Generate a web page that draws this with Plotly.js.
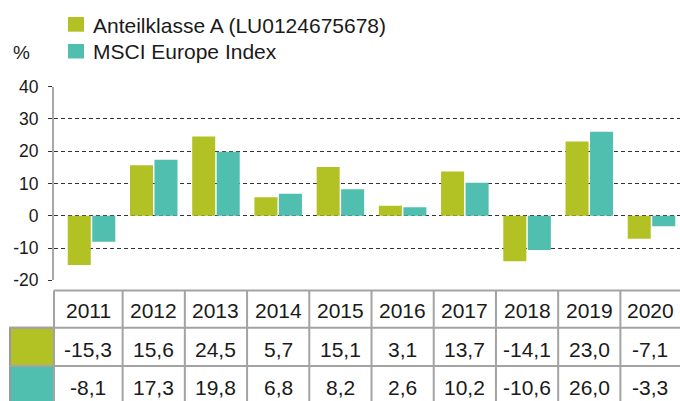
<!DOCTYPE html>
<html>
<head>
<meta charset="utf-8">
<script src="https://cdn.plot.ly/plotly-3.0.1.min.js"></script>
<style>html,body{margin:0;padding:0;background:#fff;}#chart{width:680px;height:401px;}</style>
</head>
<body>
<div id="chart"></div>
<script>
// Data
var years = ['2011','2012','2013','2014','2015','2016','2017','2018','2019','2020'];
var seriesNames = ['Anteilklasse A (LU0124675678)', 'MSCI Europe Index'];
var fundValues = [-15.3, 15.6, 24.5, 5.7, 15.1, 3.1, 13.7, -14.1, 23.0, -7.1];
var indexValues = [-8.1, 17.3, 19.8, 6.8, 8.2, 2.6, 10.2, -10.6, 26.0, -3.3];
var yTicks = [-20, -10, 0, 10, 20, 30, 40];

var W = 680, H = 401, L = 54, R = 0;
var colors = ['#b2c224', '#50bfb0'];
var txtColor = '#1a1a1a';
var tableLine = '#a3a3a3';
var font = 'Liberation Sans, Arial, Helvetica, sans-serif';
function px(x){ return (x - L) / (W - L - R); }
function py(y){ return (H - y) / H; }
var xMin = -0.603, xMax = 9.458;

function fmt(v){ return v.toFixed(1).replace('.', ','); }

var traces = [
  {type:'bar', x: years.map(function(_,i){return i;}), y: fundValues, name: seriesNames[0], marker:{color: colors[0]}, hoverinfo:'none'},
  {type:'bar', x: years.map(function(_,i){return i;}), y: indexValues, name: seriesNames[1], marker:{color: colors[1]}, hoverinfo:'none'}
];

var shapes = [];
var annotations = [];

// Table horizontal lines
var rowTop = 290.5, rowH1 = 327.8, rowH2 = 366, rowBot = 404;
shapes.push({type:'line', xref:'paper', yref:'paper', x0: px(L), x1: px(W+2), y0: py(rowTop), y1: py(rowTop), line:{color:tableLine, width:2}});
shapes.push({type:'line', xref:'paper', yref:'paper', x0: px(9), x1: px(W+2), y0: py(rowH1), y1: py(rowH1), line:{color:tableLine, width:2}});
shapes.push({type:'line', xref:'paper', yref:'paper', x0: px(9), x1: px(W+2), y0: py(rowH2), y1: py(rowH2), line:{color:tableLine, width:2}});
// vertical lines
shapes.push({type:'line', xref:'paper', yref:'paper', x0: px(L), x1: px(L), y0: py(rowTop), y1: py(rowBot+4), line:{color:tableLine, width:2}});
for (var i = 0; i < years.length - 1; i++) {
  shapes.push({type:'line', xref:'x', yref:'paper', x0: i+0.5, x1: i+0.5, y0: py(rowTop), y1: py(rowBot+4), line:{color:tableLine, width:2}});
}
// Left colored cells
shapes.push({type:'rect', xref:'paper', yref:'paper', x0: px(10), x1: px(L), y0: py(rowH1), y1: py(rowH2), fillcolor: colors[0], line:{color:'#999', width:2}, layer:'below'});
shapes.push({type:'rect', xref:'paper', yref:'paper', x0: px(10), x1: px(L), y0: py(rowH2), y1: py(rowBot+6), fillcolor: colors[1], line:{color:'#999', width:2}, layer:'below'});

// Table text
var rows = [
  {vals: years, cy: (rowTop+rowH1)/2 + 1.5},
  {vals: fundValues.map(fmt), cy: (rowH1+rowH2)/2 + 2.5},
  {vals: indexValues.map(fmt), cy: (rowH2+rowBot)/2 + 2.5}
];
rows.forEach(function(r){
  r.vals.forEach(function(t, i){
    var left = i === 0 ? xMin : i - 0.5;
    var right = i === years.length - 1 ? xMax : i + 0.5;
    annotations.push({xref:'x', yref:'paper', x:(left+right)/2, y: py(r.cy), text: t, showarrow:false,
      xanchor:'center', yanchor:'middle', font:{family:font, size:21, color:txtColor}});
  });
});

// Legend
var legRows = [{y0:17, y1:31.7, cy:25.2}, {y0:44, y1:58.5, cy:51.8}];
legRows.forEach(function(lr, k){
  shapes.push({type:'rect', xref:'paper', yref:'paper', x0: px(68), x1: px(84), y0: py(lr.y1), y1: py(lr.y0), fillcolor: colors[k], line:{width:0}});
  annotations.push({xref:'paper', yref:'paper', x: px(91), y: py(lr.cy), text: seriesNames[k], showarrow:false,
    xanchor:'left', yanchor:'middle', font:{family:font, size:21, color:txtColor}});
});
// % label
annotations.push({xref:'paper', yref:'paper', x: px(21.5), y: py(53), text:'%', showarrow:false,
  xanchor:'center', yanchor:'middle', font:{family:font, size:19, color:txtColor}});

var layout = {
  width: W, height: H,
  margin: {l: L, r: R, t: 0, b: 0, pad: 0},
  paper_bgcolor: '#fff', plot_bgcolor: '#fff',
  showlegend: false,
  barmode: 'group',
  bargap: 0.2125,
  bargroupgap: 0.06,
  xaxis: {type:'linear', range:[xMin, xMax], showgrid:false, zeroline:false, showticklabels:false, ticks:'', showline:false, fixedrange:true},
  yaxis: {range:[-20, 40], domain:[py(280.3), py(86.5)], tickvals: yTicks, ticktext: yTicks.map(String),
    showgrid:true, gridcolor:'#333', griddash:'4px,3px', gridwidth:1,
    zeroline:false, showline:true, linecolor:'#a8a8a8', linewidth:2,
    ticks:'outside', ticklen:4, tickcolor:'#333', tickwidth:1,
    ticklabelstandoff: 6,
    tickfont:{family:font, size:17.5, color:txtColor}, fixedrange:true},
  shapes: shapes,
  annotations: annotations,
  font: {family: font, color: txtColor}
};

Plotly.newPlot('chart', traces, layout, {displayModeBar:false, staticPlot:true});
</script>
</body>
</html>
